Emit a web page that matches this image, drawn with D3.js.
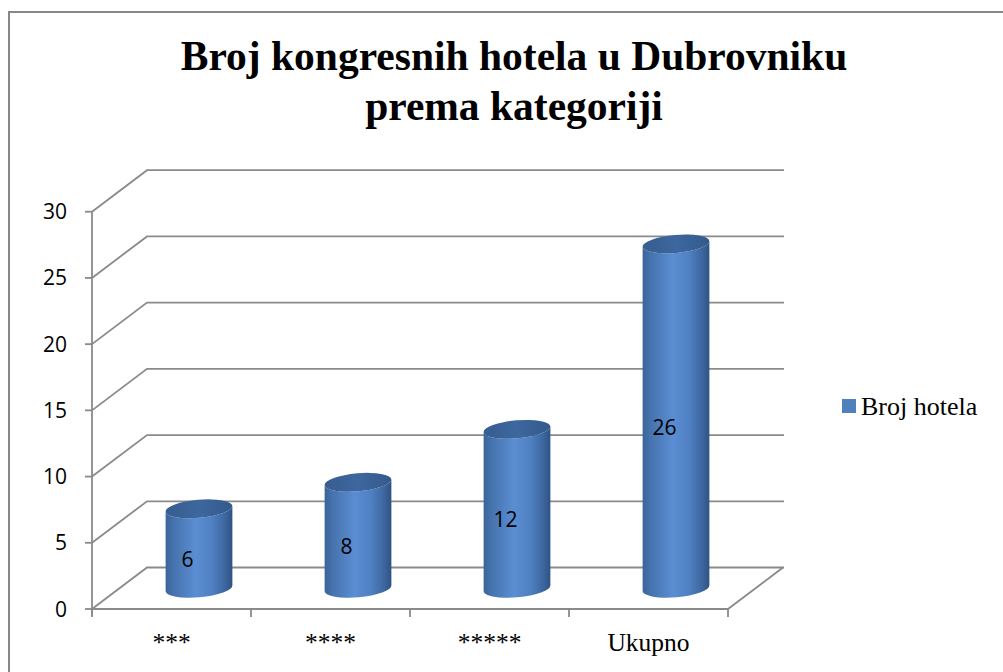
<!DOCTYPE html>
<html>
<head>
<meta charset="utf-8">
<script src="https://cdn.jsdelivr.net/npm/d3@7"></script>
<style>
  html, body { margin: 0; padding: 0; background: #fff; }
  svg { display: block; }
</style>
</head>
<body>
<svg id="chart" width="1003" height="672"></svg>
<script>
const categories = ["***", "****", "*****", "Ukupno"];
const values = [6, 8, 12, 26];
const yTicks = [0, 5, 10, 15, 20, 25, 30];
const seriesName = "Broj hotela";
const titleLines = ["Broj kongresnih hotela u Dubrovniku", "prema kategoriji"];

const svg = d3.select("#chart");
const W = 1003, H = 672;

// frame
svg.append("rect").attr("x", 9).attr("y", 12).attr("width", 1010).attr("height", 700)
  .attr("fill", "#fff").attr("stroke", "#878787").attr("stroke-width", 2);

// title
svg.append("g").selectAll("text").data(titleLines).join("text")
  .attr("x", 514).attr("y", (d, i) => 70 + i * 50)
  .attr("text-anchor", "middle")
  .attr("font-family", "'Liberation Serif', 'Times New Roman', serif")
  .attr("font-weight", "bold").attr("font-size", 41.5)
  .attr("fill", "#000").text(d => d);

// scales (front plane)
const x = d3.scaleBand().domain(categories).range([92, 728]).padding(0);
const y = d3.scaleLinear().domain([0, 30]).range([609, 211.7]);
const DX = 55, DY = -41.5;  // depth offset
const backRight = 784;
const gridColor = "#8a8a8a";

// gridlines (side wall diagonal + back wall)
const grid = svg.append("g").attr("fill", "none").attr("stroke", gridColor).attr("stroke-width", 1.8);
yTicks.forEach(v => {
  grid.append("path").attr("d",
    `M${x.range()[0]},${y(v)} L${x.range()[0] + DX},${y(v) + DY} L${backRight},${y(v) + DY}`);
});
// floor
grid.append("path").attr("d",
  `M${x.range()[0]},${y(0)} L${x.range()[1]},${y(0)} L${x.range()[1] + DX},${y(0) + DY}`);

// y axis
const axis = svg.append("g").attr("stroke", gridColor).attr("stroke-width", 1.8).attr("fill", "none");
axis.append("line").attr("x1", 92).attr("x2", 92).attr("y1", y(30)).attr("y2", y(0) + 7);
yTicks.forEach(v => {
  axis.append("line").attr("x1", 85).attr("x2", 92).attr("y1", y(v)).attr("y2", y(v));
});
// x ticks
const xEdges = categories.map(c => x(c)).concat([x.range()[1]]);
xEdges.forEach(e => {
  axis.append("line").attr("x1", e).attr("x2", e).attr("y1", y(0)).attr("y2", y(0) + 8);
});

// y labels
svg.append("g").selectAll("text").data(yTicks).join("text")
  .attr("x", 67).attr("y", d => y(d) + 7.5)
  .attr("text-anchor", "end")
  .attr("font-family", "'Open Sans', 'Liberation Sans', sans-serif")
  .attr("font-size", 21).attr("fill", "#000").text(d => d);

// x labels
svg.append("g").selectAll("text").data(categories).join("text")
  .attr("x", d => x(d) + x.bandwidth() / 2).attr("y", 651)
  .attr("text-anchor", "middle")
  .attr("font-family", "'Liberation Serif', 'Times New Roman', serif")
  .attr("font-size", 25.5).attr("fill", "#000").text(d => d);

// gradients
const defs = svg.append("defs");
const bodyGrad = defs.append("linearGradient").attr("id", "body").attr("x1", 0).attr("x2", 1).attr("y1", 0).attr("y2", 0);
[[0, "#3a6399"], [0.12, "#4673ae"], [0.45, "#5a8dd2"], [0.7, "#4f80c2"], [0.9, "#3c659d"], [1, "#2f5284"]]
  .forEach(([o, c]) => bodyGrad.append("stop").attr("offset", o).attr("stop-color", c));
const topGrad = defs.append("linearGradient").attr("id", "top").attr("x1", 0).attr("x2", 1).attr("y1", 0).attr("y2", 0);
[[0, "#375d90"], [0.5, "#3d679e"], [1, "#345a8c"]]
  .forEach(([o, c]) => topGrad.append("stop").attr("offset", o).attr("stop-color", c));

// cylinders
const rx = 33.5, ry = 9, ang = -5;
const ca = Math.cos(ang * Math.PI / 180), sa = Math.sin(ang * Math.PI / 180);
const bars = svg.append("g");
categories.forEach((c, i) => {
  const v = values[i];
  const cx = x(c) + x.bandwidth() / 2 + DX / 2;
  const yb = y(0) + DY / 2;
  const yt = y(v) + DY / 2;
  const lx = cx - rx * ca, rxp = cx + rx * ca;
  const dyl = -rx * sa, dyr = rx * sa;
  bars.append("path")
    .attr("d", `M${lx},${yt + dyl} L${lx},${yb + dyl} A${rx},${ry} ${ang} 0 0 ${rxp},${yb + dyr} L${rxp},${yt + dyr} A${rx},${ry} ${ang} 0 1 ${lx},${yt + dyl} Z`)
    .attr("fill", "url(#body)");
  bars.append("ellipse")
    .attr("cx", cx).attr("cy", yt).attr("rx", rx).attr("ry", ry)
    .attr("transform", `rotate(${ang},${cx},${yt})`)
    .attr("fill", "url(#top)");
  // data label
  bars.append("text")
    .attr("x", x(c) + x.bandwidth() / 2 + 16)
    .attr("y", (y(v / 2) + DY / 2) + 18.5)
    .attr("text-anchor", "middle")
    .attr("font-family", "'Open Sans', 'Liberation Sans', sans-serif")
    .attr("font-size", 21).attr("fill", "#000").text(v);
});

// legend
const lg = svg.append("g");
lg.append("rect").attr("x", 842).attr("y", 399).attr("width", 14).attr("height", 14).attr("fill", "#4f81bd");
lg.append("text").attr("x", 861).attr("y", 415)
  .attr("font-family", "'Liberation Serif', 'Times New Roman', serif")
  .attr("font-size", 26).attr("fill", "#000").text(seriesName);
</script>
</body>
</html>
